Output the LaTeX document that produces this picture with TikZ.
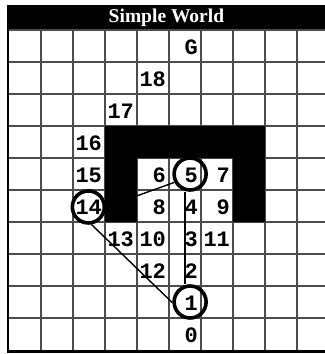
\documentclass[tikz,border=0pt]{standalone}
\usepackage{fontspec}
\newfontfamily\cellfont{Liberation Mono}
\newfontfamily\titlefont{Liberation Serif}
\usepackage{tikz}
\usetikzlibrary{positioning}

\begin{document}
\begin{tikzpicture}[
  x=32pt, y=32pt,
  grid/.style={line width=1.3pt, black!70},
  num/.style={anchor=base east, inner sep=0pt, font=\cellfont\bfseries\fontsize{22}{22}\selectfont},
  ring/.style={draw, circle, line width=3.6pt, minimum size=32pt, inner sep=0pt},
  path/.style={line width=1.4pt}
]
  \useasboundingbox (-0.281,-10.125) rectangle (9.875,0.9375);
  \fill[white] (-0.281,-10.125) rectangle (9.875,0.9375);
  % Bandeau titre
  \fill (-0.0625,0.03) rectangle (10,0.78);
  \node[anchor=base, inner sep=0pt, white, font=\titlefont\bfseries\fontsize{19.5}{19.5}\selectfont] (title) at (4.92,0.25) {Simple World};
  % Grille
  \foreach \i in {1,...,9} \draw[grid] (\i,0) -- (\i,-10);
  \foreach \j in {0,...,9} \draw[grid] (0,-\j) -- (10,-\j);
  \fill (-0.0625,0.78) rectangle (0,-10.09);
  \fill (-0.0625,-10) rectangle (10,-10.09);
  % Etats
  \foreach \c/\r/\t in {5/0/G, 4/1/18, 3/2/17, 2/3/16, 2/4/15, 4/4/6, 5/4/5, 6/4/7, 2/5/14, 4/5/8, 5/5/4, 6/5/9,
                        3/6/13, 4/6/10, 5/6/3, 6/6/11, 4/7/12, 5/7/2, 5/8/1, 5/9/0}
    \node[num] (n\t) at (\c+0.91,-\r-0.755) {\t};
  % Cercles
  \node[ring] (c5) at (5.66,-4.5) {};
  \node[ring] (c14) at (2.48,-5.53) {};
  \node[ring] (c1) at (5.66,-8.5) {};
  % Chemins
  \draw[path] (c14.east) -- (c5.208);
  \draw[path] (c14.-80) -- (c1.182);
  \draw[path] ([xshift=-5pt]c5.south) -- ([xshift=-5pt]c1.north);
  % Obstacle
  \fill (3,-3) -- (8,-3) -- (8,-6) -- (7,-6) -- (7,-4) -- (4,-4) -- (4,-6) -- (3,-6) -- cycle;
\end{tikzpicture}
\end{document}
